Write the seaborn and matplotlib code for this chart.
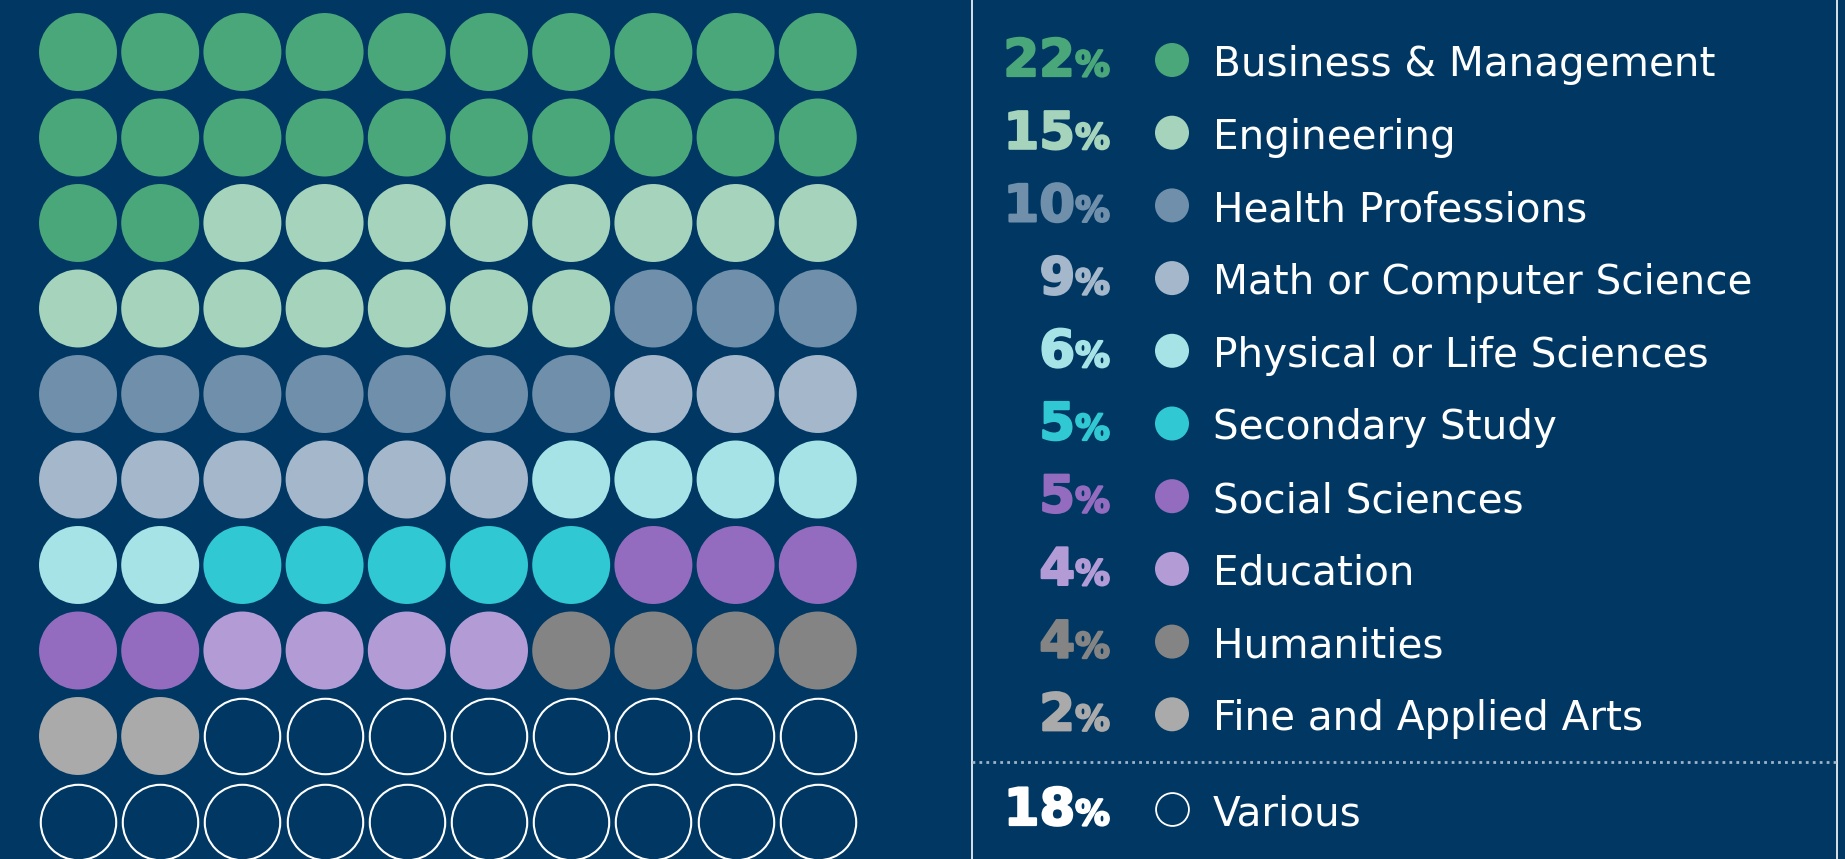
import numpy as np
import pandas as pd
import matplotlib
matplotlib.use("Agg")
import matplotlib.pyplot as plt
import matplotlib.patheffects as pe
import seaborn as sns

categories = ['Business & Management', 'Engineering', 'Health Professions',
              'Math or Computer Science', 'Physical or Life Sciences', 'Secondary Study',
              'Social Sciences', 'Education', 'Humanities', 'Fine and Applied Arts', 'Various']
percents = [22, 15, 10, 9, 6, 5, 5, 4, 4, 2, 18]
colors = ['#4aa77a', '#a5d3bc', '#6f8fab', '#a5b8cb', '#a6e3e7', '#30c8d2',
          '#936cbf', '#b39bd6', '#848484', '#aaaaaa', '#ffffff']
bg = '#013763'

sns.set_theme(style='white')
plt.rcParams['font.family'] = ['DejaVu Sans']

fig = plt.figure(figsize=(18.45, 8.59), dpi=100, facecolor=bg)
ax = fig.add_axes([0, 0, 1, 1])
ax.set_facecolor(bg)
ax.set_xlim(0, 1845)
ax.set_ylim(859, 0)
ax.axis('off')

# waffle grid, one circle per percent, filled row by row
idx = np.arange(sum(percents))
waffle = pd.DataFrame({'cat': np.repeat(categories, percents),
                       'x': 78 + (idx % 10) * 82.2,
                       'y': 52 + (idx // 10) * 85.5})
pal = dict(zip(categories, colors))
sns.scatterplot(data=waffle[waffle['cat'] != 'Various'], x='x', y='y', hue='cat',
                palette=pal, s=3150, linewidth=0, legend=False, ax=ax)
sns.scatterplot(data=waffle[waffle['cat'] == 'Various'], x='x', y='y',
                color=bg, edgecolor='white', s=2950, linewidth=1.5, ax=ax)

# legend side
leg = pd.DataFrame({'cat': categories,
                    'x': 1172,
                    'y': [60 + i * 72.7 for i in range(10)] + [809]})
sns.scatterplot(data=leg.iloc[:10], x='x', y='y', hue='cat', palette=pal,
                s=600, linewidth=0, legend=False, ax=ax)
sns.scatterplot(data=leg.iloc[10:], x='x', y='y', color=bg, edgecolor='white',
                s=560, linewidth=1.3, ax=ax)

renderer = fig.canvas.get_renderer()
for cat, p, c, y in zip(categories, percents, colors, leg['y']):
    ax.text(1213, y + 16, cat, color='white', fontsize=29.2, va='baseline')
    heavy = [pe.withStroke(linewidth=1.6, foreground=c)]
    t = ax.text(1110, y + 16, '%', color=c, fontsize=25, fontweight='bold',
                ha='right', va='baseline', path_effects=heavy)
    bb = t.get_window_extent(renderer)
    xl = ax.transData.inverted().transform((bb.x0, bb.y0))[0]
    ax.text(xl, y + 16, str(p), color=c, fontsize=37, fontweight='bold',
            ha='right', va='baseline', path_effects=heavy)

ax.axvline(972, color='white', lw=1.2)
ax.axvline(1837, color='white', lw=1.2)
ax.plot([972, 1837], [762, 762], ls=(0, (1, 1.5)), color='#9fb3c8', lw=2)

fig.savefig('out.png', dpi=100, facecolor=bg)
